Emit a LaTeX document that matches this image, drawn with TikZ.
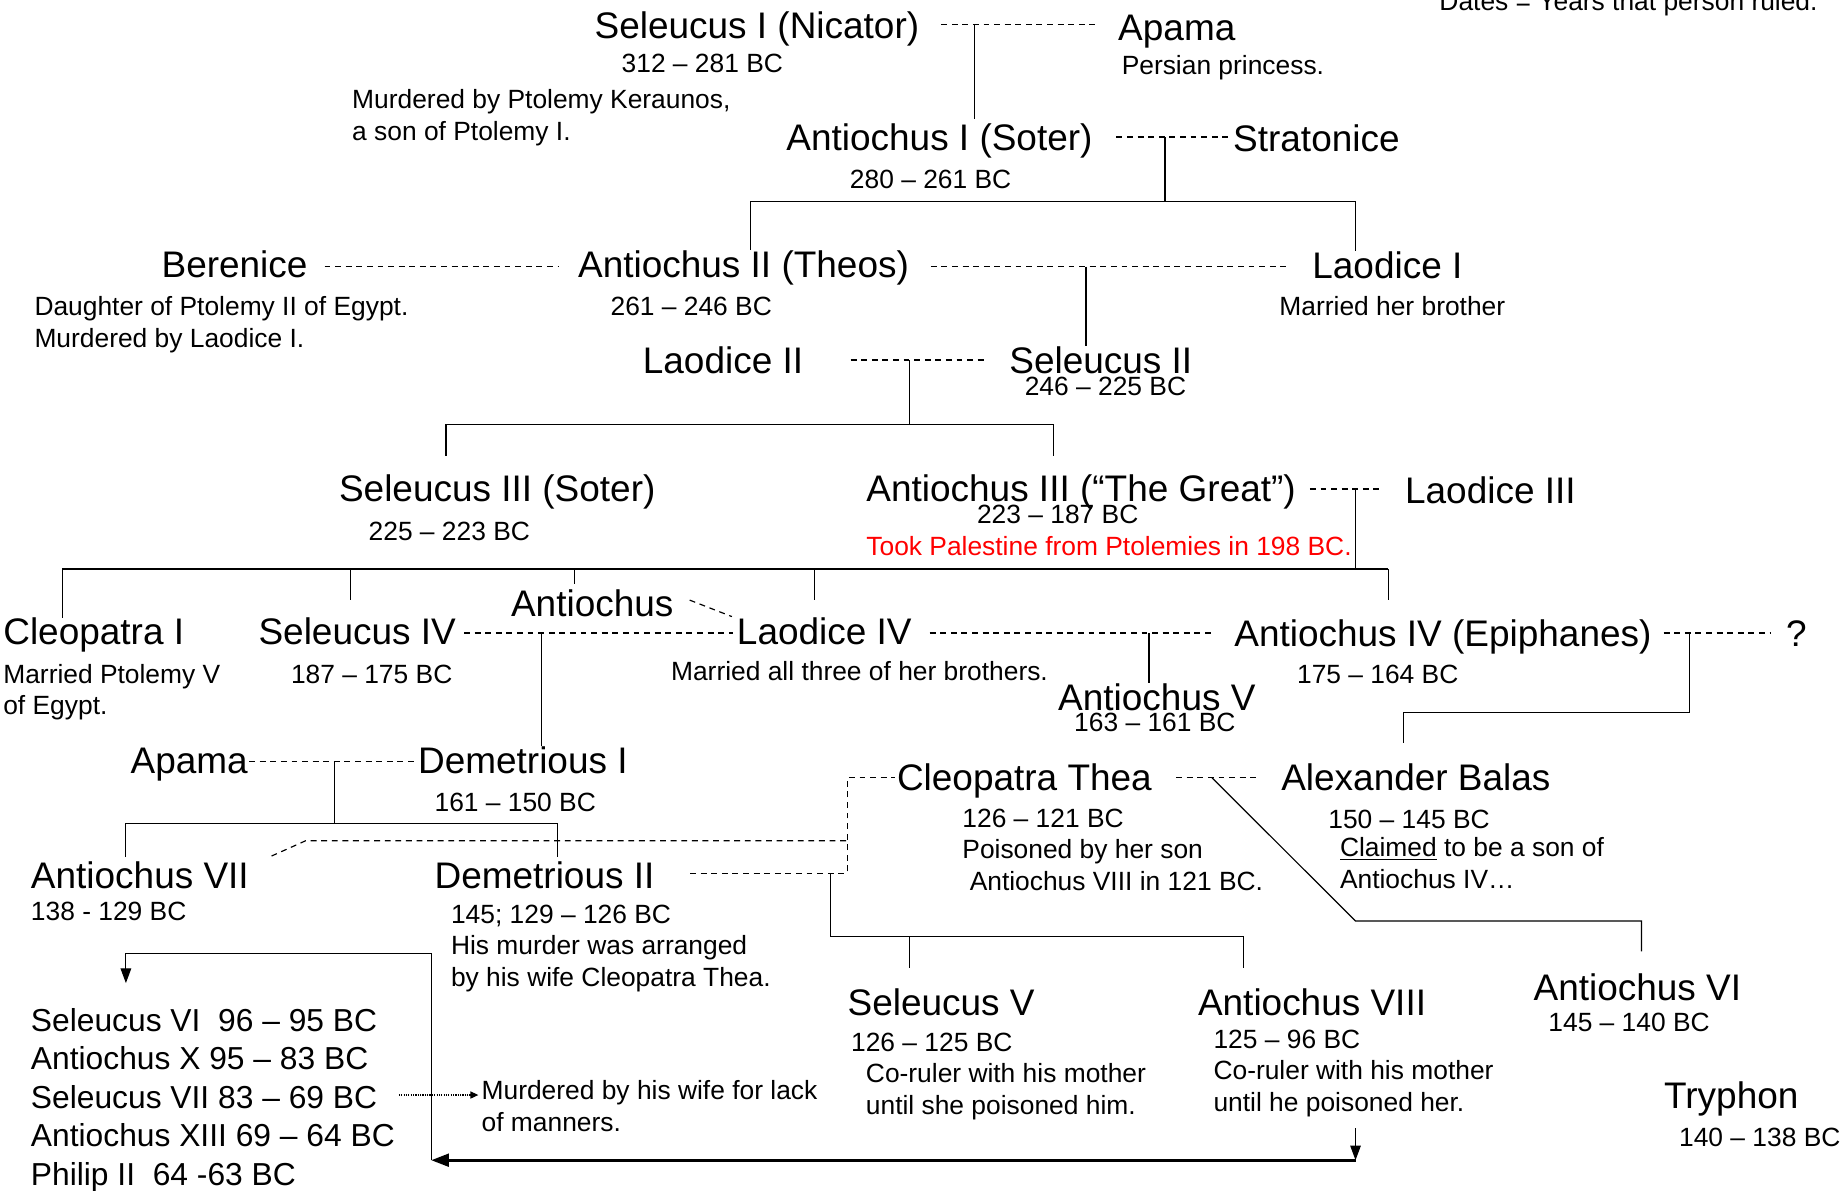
\documentclass[tikz,border=0pt]{standalone}
\usepackage{fontspec}
\setmainfont{Liberation Sans}
\usepackage{tikz}
\usetikzlibrary{arrows.meta,calc}

\newcommand\namesize{\fontsize{18.85}{22}\selectfont}
\newcommand\infosize{\fontsize{13.45}{16.2}\selectfont}
\newcommand\listsize{\fontsize{16.2}{19.65}\selectfont}

% multi-line nodes are placed at the baseline of their last line
\tikzset{
	person/.style={font=\namesize, inner sep=0pt, anchor=base west},
	info/.style={font=\infosize, inner sep=0pt, anchor=base west, align=left},
	kings/.style={font=\listsize, inner sep=0pt, anchor=base west, align=left},
	marry/.style={line width=0.6pt, dash pattern=on 3pt off 2.4pt},
	child/.style={line width=0.6pt},
	pointer/.style={line width=0.6pt, -{Triangle[length=7.5pt,width=5.4pt]}},
}

\begin{document}
\begin{tikzpicture}[x=0.6pt, y=-0.6pt]
\useasboundingbox (0, 0) rectangle (1568, 1012);

% first generations
\node[person] (sel1) at (505, 32.6) {Seleucus I (Nicator)};
\node[info] (sel1d) at (528, 61.8) {312 – 281 BC};
\node[info] (sel1n) at (299, 119.5) {Murdered by Ptolemy Keraunos,\\a son of Ptolemy I.};
\node[person] (apa1) at (950, 34.6) {Apama};
\node[info] (apa1n) at (953, 63.7) {Persian princess.};
\node[info] (key) at (1223, 9) {Dates = Years that person ruled.};

\node[person] (ant1) at (668, 127.5) {Antiochus I (Soter)};
\node[info] (ant1d) at (722, 160) {280 – 261 BC};
\node[person] (strat) at (1047.7, 129) {Stratonice};

\node[person] (ber) at (137, 235.7) {Berenice};
\node[info] (bern) at (29, 295.5) {Daughter of Ptolemy II of Egypt.\\Murdered by Laodice I.};
\node[person] (ant2) at (491, 235.7) {Antiochus II (Theos)};
\node[info] (ant2d) at (518.6, 268) {261 – 246 BC};
\node[person] (lao1) at (1115, 236.6) {Laodice I};
\node[info] (lao1n) at (1087, 267.7) {Married her brother};

\node[person] (lao2) at (546, 317) {Laodice II};
\node[person] (sel2) at (857.5, 317) {Seleucus II};
\node[info] (sel2d) at (870.6, 335.7) {246 – 225 BC};

\node[person] (sel3) at (287.8, 426.3) {Seleucus III (Soter)};
\node[info] (sel3d) at (313, 459) {225 – 223 BC};
\node[person] (ant3) at (736, 426.3) {Antiochus III (“The Great”)};
\node[info] (ant3d) at (830, 445) {223 – 187 BC};
\node[info, text=red] (ant3n) at (736, 471.7) {Took Palestine from Ptolemies in 198 BC.};
\node[person] (lao3) at (1193.8, 428.3) {Laodice III};

% children of Antiochus III
\node[person] (antx) at (434, 524) {Antiochus};
\node[person] (cleo1) at (2.5, 548) {Cleopatra I};
\node[info] (cleo1n) at (2.5, 607.6) {Married Ptolemy V\\of Egypt.};
\node[person] (sel4) at (219.4, 548) {Seleucus IV};
\node[info] (sel4d) at (247, 581) {187 – 175 BC};
\node[person] (lao4) at (626, 548) {Laodice IV};
\node[info] (lao4n) at (570, 578) {Married all three of her brothers.};
\node[person] (ant4) at (1048.7, 549) {Antiochus IV (Epiphanes)};
\node[info] (ant4d) at (1102, 581) {175 – 164 BC};
\node[person] (unk) at (1517.5, 549) {?};
\node[person] (ant5) at (899, 603.4) {Antiochus V};
\node[info] (ant5d) at (912.6, 622) {163 – 161 BC};

\node[person] (apa2) at (110.7, 657) {Apama};
\node[person] (dem1) at (355, 657) {Demetrious I};
\node[info] (dem1d) at (369, 689.8) {161 – 150 BC};
\node[person] (cleot) at (762, 671.4) {Cleopatra Thea};
\node[info] (cleotn) at (817.6, 757) {126 – 121 BC\\Poisoned by her son\\\ Antiochus VIII in 121 BC.};
\node[person] (balas) at (1088.6, 671.4) {Alexander Balas};
\node[info] (balasd) at (1128.6, 703.8) {150 – 145 BC};
\node[info] (balasn) at (1138.5, 754.7) {\underline{Claimed} to be a son of\\Antiochus IV…};

\node[person] (ant7) at (26, 754.8) {Antiochus VII};
\node[info] (ant7d) at (26, 781.9) {138 - 129 BC};
\node[person] (dem2) at (369, 754.8) {Demetrious II};
\node[info] (dem2n) at (383, 838.5) {145; 129 – 126 BC\\His murder was arranged\\by his wife Cleopatra Thea.};

\node[person] (sel5) at (720, 862.6) {Seleucus V};
\node[info] (sel5d) at (723, 893.8) {126 – 125 BC};
\node[info] (sel5n) at (735.6, 947) {Co-ruler with his mother\\until she poisoned him.};
\node[person] (ant8) at (1017.8, 862.6) {Antiochus VIII};
\node[info] (ant8n) at (1031, 944.8) {125 – 96 BC\\Co-ruler with his mother\\until he poisoned her.};
\node[person] (ant6) at (1303, 850) {Antiochus VI};
\node[info] (ant6d) at (1315.6, 876.7) {145 – 140 BC};
\node[person] (tryph) at (1414, 941.8) {Tryphon};
\node[info] (tryphd) at (1426.7, 974.5) {140 – 138 BC};

\node[kings] (later) at (26, 1007.5) {Seleucus VI\ \ 96 – 95 BC\\Antiochus X 95 – 83 BC\\Seleucus VII 83 – 69 BC\\Antiochus XIII 69 – 64 BC\\Philip II\ \ 64 -63 BC};
\node[info] (manners) at (409, 961.8) {Murdered by his wife for lack\\of manners.};

% junctions
\coordinate (m1) at (828, 21);
\coordinate (m2) at (990, 116.5);
\coordinate (b2a) at (638, 171);
\coordinate (b2b) at (1152, 171);
\coordinate (m3) at (923, 226.6);
\coordinate (m5) at (773, 306);
\coordinate (b5a) at (379, 361);
\coordinate (b5b) at (895.6, 361);
\coordinate (m6) at (1152, 415.6);
\coordinate (g0) at (53, 483.6);
\coordinate (g1) at (298, 483.6);
\coordinate (g2) at (488, 483.6);
\coordinate (g3) at (692, 483.6);
\coordinate (g4) at (1180, 483.6);
\coordinate (m8) at (460, 538);
\coordinate (m9) at (976.5, 538);
\coordinate (m10) at (1435.5, 538);
\coordinate (k10) at (1193, 605.7);
\coordinate (m11) at (284, 647);
\coordinate (b11a) at (107, 700);
\coordinate (b11b) at (474, 700);
\coordinate (m12) at (720, 742);
\coordinate (m7) at (720, 714.5);
\coordinate (c12) at (705.6, 742);
\coordinate (b12a) at (773, 796);
\coordinate (b12b) at (1057, 796);
\coordinate (m13) at (1030, 661);
\coordinate (k13) at (1152, 782.7);
\coordinate (b13) at (1395, 782.7);

% marriages and children
\draw[marry, shorten <=11pt, shorten >=11.7pt] (sel1.east |- m1) -- (apa1.west |- m1);
\draw[child, shorten >=2pt] (m1) -- (m1 |- ant1.north);

\draw[marry, shorten <=12pt, shorten >=1pt] (ant1.east |- m2) -- (strat.west |- m2);
\draw[child] (m2) -- (m2 |- b2a);
\draw[child] (ant2.north -| b2a) -- (b2a) -- (b2b) -- (b2b |- lao1.north);

\draw[marry, shorten <=8.5pt, shorten >=10pt] (ber.east |- m3) -- (ant2.west |- m3);
\draw[marry, shorten <=11pt, shorten >=10.8pt] (ant2.east |- m3) -- (lao1.west |- m3);
\draw[child] (m3) -- (m3 |- sel2.north);

\draw[marry, shorten <=24pt, shorten >=12.5pt] (lao2.east |- m5) -- (sel2.west |- m5);
\draw[child] (m5) -- (m5 |- b5a);
\draw[child, shorten <=9.5pt, shorten >=9.5pt] (sel3.north -| b5a) -- (b5a) -- (b5b) -- (b5b |- ant3.north);

\draw[marry, shorten <=7pt, shorten >=11pt] (ant3.east |- m6) -- (lao3.west |- m6);
\draw[child] (m6) -- (m6 |- g4);
\draw[child] (g0 |- cleo1.north) -- (g0) -- (g4);
\draw[child, shorten >=9pt] (g1) -- (g1 |- sel4.north);
\draw[child, shorten >=3pt] (g2) -- (g2 |- antx.north);
\draw[child, shorten >=9pt] (g3) -- (g3 |- lao4.north);
\draw[child, shorten >=9.6pt] (g4) -- (g4 |- ant4.north);

\draw[marry] ($(antx.base east)+(13.5,-14)$) -- ($(lao4.base west)+(-4,-24)$);
\draw[marry, shorten <=4pt, shorten >=1.8pt] (sel4.east |- m8) -- (lao4.west |- m8);
\draw[child] (m8) -- (m8 |- dem1.north);
\draw[marry, shorten <=9pt, shorten >=11.2pt] (lao4.east |- m9) -- (ant4.west |- m9);
\draw[child] (m9) -- (m9 |- ant5.north);
\draw[marry, shorten <=6pt, shorten >=7.5pt] (ant4.east |- m10) -- (unk.west |- m10);
\draw[child, shorten >=10pt] (m10) -- (m10 |- k10) -- (k10) -- (k10 |- balas.north);

\draw[marry, shorten <=0.5pt, shorten >=1pt] (apa2.east |- m11) -- (dem1.west |- m11);
\draw[child] (m11) -- (m11 |- b11a);
\draw[child, shorten <=2pt, shorten >=2pt] (ant7.north -| b11a) -- (b11a) -- (b11b) -- (b11b |- dem2.north);

\draw[marry] ($(ant7.base east)+(19,-27.3)$) -- ($(ant7.base east)+(48,-40.3)$) -- (m7);
\draw[marry, shorten <=18pt, shorten >=1pt] (dem2.east |- m12) -- (m12) -- (m12 |- m13) -- (cleot.west |- m13);
\draw[child] (c12) -- (c12 |- b12a) -- (b12b);
\draw[child, shorten >=10pt] (b12a) -- (b12a |- sel5.north);
\draw[child, shorten >=10pt] (b12b) -- (b12b |- ant8.north);

\draw[marry, shorten <=12.2pt, shorten >=10.5pt] (cleot.east |- m13) -- (balas.west |- m13);
\draw[child, shorten >=11pt] (m13) -- (k13) -- (b13) -- (b13 |- ant6.north);

% later kings
\coordinate (a1) at (1152, 958.7);
\coordinate (a2) at (1152, 986);
\coordinate (a3) at (366.5, 986);
\coordinate (a4) at (366.5, 810);
\coordinate (a5) at (107, 810);
\coordinate (d1) at (339, 930.6);
\draw[pointer] (a1) -- (a2);
\draw[line width=1.4pt, -{Triangle[length=9pt,width=6.5pt]}] (a2) -- (a3);
\draw[pointer] (a3) -- (a4) -- (a5) -- (107, 835.5);
\draw[line width=0.6pt, dash pattern=on 0.6pt off 0.6pt, -{Triangle[length=4pt,width=3.6pt]}, shorten >=1.5pt] (d1) -- (d1 -| manners.west);
\end{tikzpicture}
\end{document}
